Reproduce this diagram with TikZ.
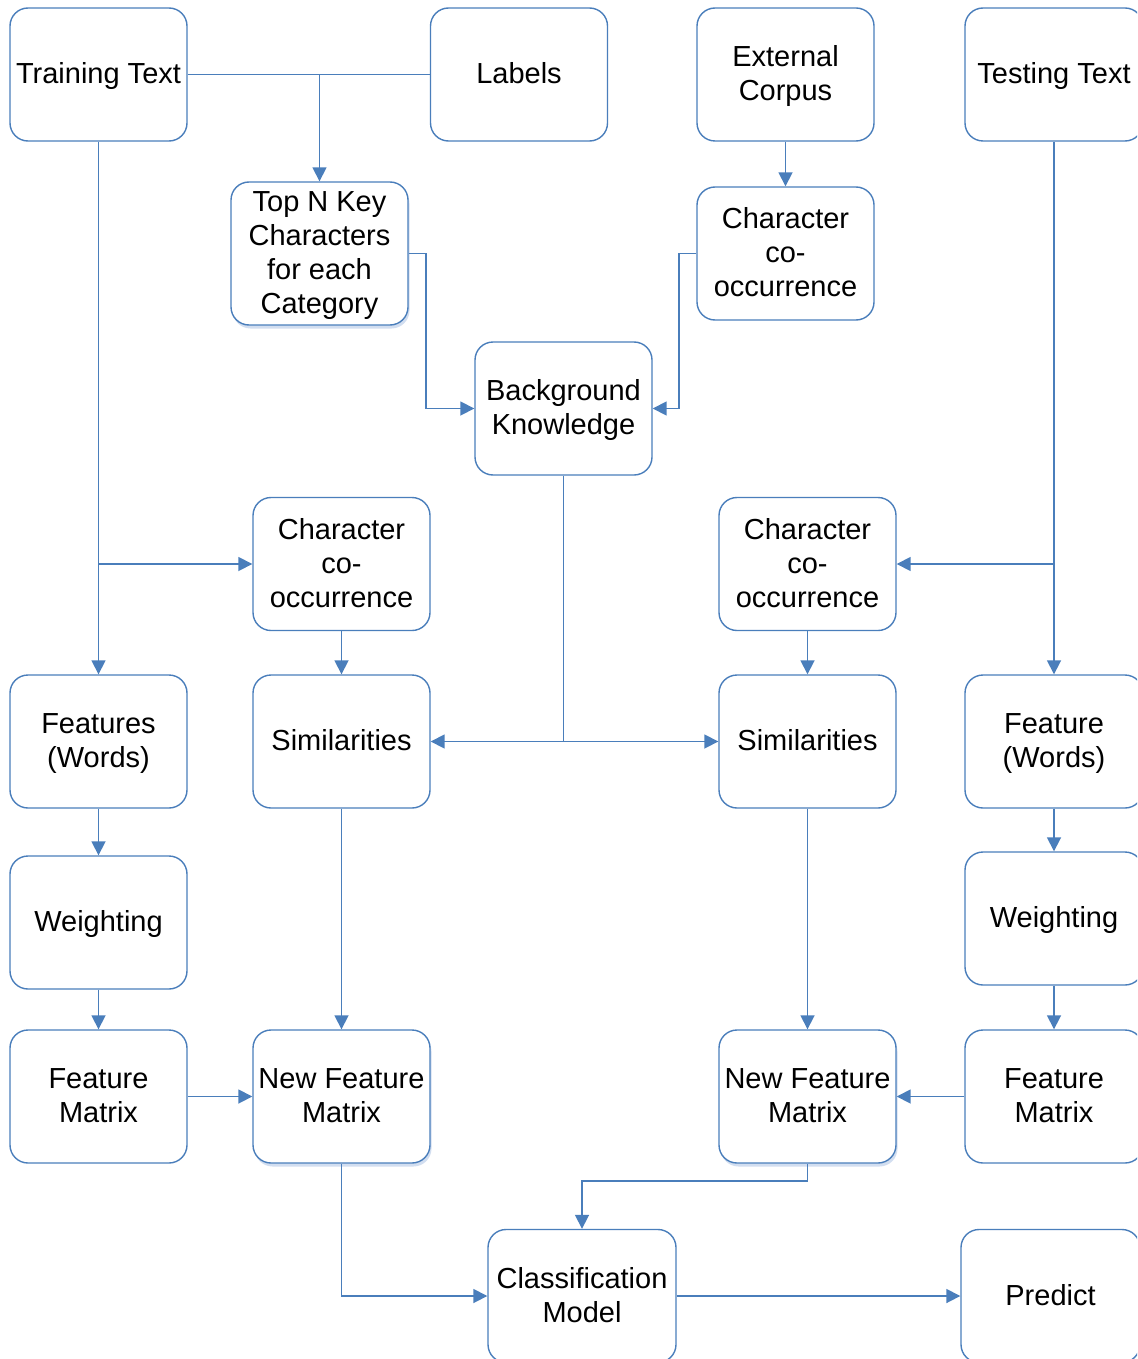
\documentclass[tikz,border=0pt]{standalone}
\usepackage{fontspec}
\setmainfont{Liberation Sans}
\usetikzlibrary{arrows.meta,shadows,calc}
\definecolor{edge}{RGB}{74,126,187}
\definecolor{shade}{RGB}{205,218,238}
% centred block of lines with a fixed cap above the first line
\newcommand\bxt[1]{\begin{tabular}{@{}c@{}}\rule{0pt}{29pt}#1\end{tabular}}

\begin{document}
\begin{tikzpicture}[x=1pt,y=-1pt,
  box/.style={draw=edge, line width=1.4pt, rounded corners=18pt,
    minimum width=177pt, minimum height=133pt,
    font=\fontsize{29}{34}\selectfont, inner sep=0pt, fill=white},
  shadowed/.style={drop shadow={shadow xshift=1.5pt, shadow yshift=-3.5pt,
    fill=shade, opacity=0.9}},
  link/.style={draw=edge, line width=1.7pt},
  flow/.style={link, -{Triangle[length=14pt,width=14pt]}}
]
\clip (0,0) rectangle (1137,1359);

% top row
\node[box] (train)  at (98.5,74.5)  {\bxt{Training Text}};
\node[box] (labels) at (519,74.5)   {\bxt{Labels}};
\node[box] (corpus) at (785.5,74.5) {\bxt{External\\Corpus}};
\node[box, minimum width=178pt] (test) at (1054,74.5) {\bxt{Testing Text}};

% background knowledge sources
\node[box, shadowed, minimum height=143pt] (topn) at (319.5,253.5)
  {\bxt{Top N Key\\Characters\\for each\\Category}};
\node[box] (cooc) at (785.5,253.5) {\bxt{Character\\co-\\occurrence}};
\node[box] (bk)   at (563.5,408.5) {\bxt{Background\\Knowledge}};

% co-occurrence on both sides
\node[box] (coocL) at (341.5,564) {\bxt{Character\\co-\\occurrence}};
\node[box] (coocR) at (807.5,564) {\bxt{Character\\co-\\occurrence}};

% feature row
\node[box] (featL) at (98.5,741.5)  {\bxt{Features\\(Words)}};
\node[box] (simL)  at (341.5,741.5) {\bxt{Similarities}};
\node[box] (simR)  at (807.5,741.5) {\bxt{Similarities}};
\node[box, minimum width=178pt] (featR) at (1054,741.5) {\bxt{Feature\\(Words)}};

% weighting
\node[box] (wL) at (98.5,922.5) {\bxt{Weighting}};
\node[box, minimum width=178pt] (wR) at (1054,918.5) {\bxt{Weighting}};

% matrices
\node[box] (fmL) at (98.5,1096.5) {\bxt{Feature\\Matrix}};
\node[box, shadowed] (nfmL) at (341.5,1096.5) {\bxt{New Feature\\Matrix}};
\node[box, shadowed] (nfmR) at (807.5,1096.5) {\bxt{New Feature\\Matrix}};
\node[box, minimum width=178pt] (fmR) at (1054,1096.5) {\bxt{Feature\\Matrix}};

% model and prediction
\node[box, minimum width=188pt] (cls)  at (582,1296)    {\bxt{Classification\\Model}};
\node[box, minimum width=179pt] (pred) at (1050.5,1296) {\bxt{Predict}};

% connectors: training side
\draw[link] (train.east) -- (labels.west);
\draw[flow] (train.east -| topn.north) -- (topn.north);
\draw[flow] (train.south) -- (featL.north);
\draw[flow] (train.south |- coocL.west) -- (coocL.west);

% connectors: background knowledge
\draw[flow] (topn.east) -- ++(17,0) |- (bk.west);
\draw[flow] (corpus.south) -- (cooc.north);
\draw[flow] (cooc.west) -- ++(-17,0) |- (bk.east);
\draw[link] (bk.south) -- (bk.south |- simL.east);
\draw[flow] (bk.south |- simL.east) -- (simL.east);
\draw[flow] (bk.south |- simR.west) -- (simR.west);

% connectors: testing side
\draw[flow] (test.south) -- (featR.north);
\draw[flow] (test.south |- coocR.east) -- (coocR.east);

% co-occurrence to similarities to new matrices
\draw[flow] (coocL.south) -- (simL.north);
\draw[flow] (coocR.south) -- (simR.north);
\draw[flow] (simL.south) -- (nfmL.north);
\draw[flow] (simR.south) -- (nfmR.north);

% feature pipelines
\draw[flow] (featL.south) -- (wL.north);
\draw[flow] (wL.south) -- (fmL.north);
\draw[flow] (featR.south) -- (wR.north);
\draw[flow] (wR.south) -- (fmR.north);
\draw[flow] (fmL.east) -- (nfmL.west);
\draw[flow] (fmR.west) -- (nfmR.east);

% classification
\draw[flow] (nfmL.south) |- (cls.west);
\draw[flow] (nfmR.south) -- ++(0,17) -| (cls.north);
\draw[flow] (cls.east) -- (pred.west);
\end{tikzpicture}
\end{document}
